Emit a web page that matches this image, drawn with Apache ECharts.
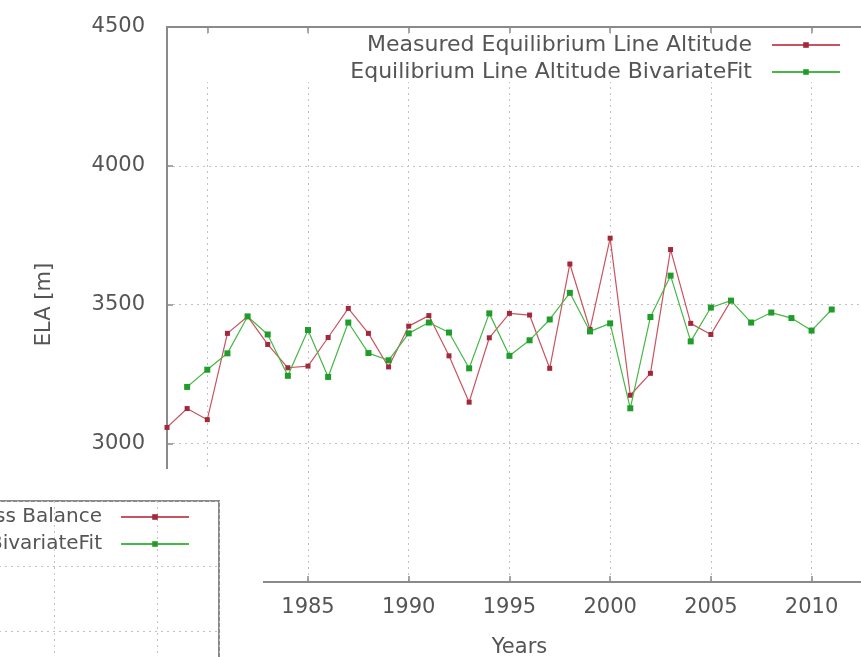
<!DOCTYPE html>
<html><head><meta charset="utf-8">
<script src="https://cdn.jsdelivr.net/npm/echarts@6/dist/echarts.min.js"></script>
<style>html,body{margin:0;padding:0;background:#fff}#c{width:861px;height:657px}</style>
</head><body><div id="c"></div>
<script>
// ---- data ----
const measuredYears = [1978,1979,1980,1981,1982,1983,1984,1985,1986,1987,1988,1989,1990,1991,1992,1993,1994,1995,1996,1997,1998,1999,2000,2001,2002,2003,2004,2005,2006];
const measuredELA = [3057,3125,3085,3396,3457,3356,3272,3278,3381,3486,3396,3275,3422,3460,3315,3148,3380,3468,3462,3270,3646,3410,3739,3173,3252,3698,3432,3392,3514];
const fitYears = [1979,1980,1981,1982,1983,1984,1985,1986,1987,1988,1989,1990,1991,1992,1993,1994,1995,1996,1997,1998,1999,2000,2001,2002,2003,2004,2005,2006,2007,2008,2009,2010,2011];
const fitELA = [3203,3265,3324,3457,3392,3243,3408,3239,3435,3325,3299,3396,3435,3399,3270,3468,3315,3371,3446,3542,3403,3432,3126,3455,3604,3367,3489,3514,3435,3471,3451,3406,3482];
const mainSeriesNames = ['Measured Equilibrium Line Altitude', 'Equilibrium Line Altitude BivariateFit'];
const insetSeriesNames = ['Measured Mass Balance', 'Mass Balance BivariateFit'];
const measuredMassBalance = [];
const fitMassBalance = [];
const xAxisTitle = 'Years';
const yAxisTitle = 'ELA [m]';

// ---- chart ----
const TXT = '#555555', AX = '#8a8a8a', GRIDC = '#c2c2c2';
const RED_L = '#c8545f', RED_M = '#a3283a', GRN_L = '#45b845', GRN_M = '#1f9c2a';
const FONT = 'DejaVu Sans';
const pair = (xs, ys) => xs.map((x, i) => [x, ys[i]]);
const plain = v => String(v);
const dotted = {show: true, lineStyle: {color: GRIDC, width: 1, type: [2, 4]}};
const baseLine = {show: true, lineStyle: {color: AX, width: 2}};
const tickIn = {show: true, inside: true, length: 6, lineStyle: {color: AX, width: 1.5}};

const chart = echarts.init(document.getElementById('c'), null, {renderer: 'canvas'});
chart.setOption({
  animation: false,
  backgroundColor: '#fff',
  textStyle: {fontFamily: FONT},
  grid: [
    {left: 167, top: 27, right: -11, bottom: 75, outerBoundsMode: 'none', containLabel: false},
    {left: -49, top: 501, width: 268, height: 195, outerBoundsMode: 'none', containLabel: false,
     show: true, borderColor: AX, borderWidth: 2, backgroundColor: '#fff', z: 60}
  ],
  xAxis: [
    {gridIndex: 0, type: 'value', min: 1978, max: 2013, splitNumber: 7, position: 'bottom',
     name: xAxisTitle, nameLocation: 'middle', nameGap: 55,
     nameTextStyle: {color: TXT, fontSize: 21, fontFamily: FONT},
     axisLine: baseLine, axisTick: tickIn,
     axisLabel: {margin: 15, color: TXT, fontSize: 21, fontFamily: FONT, formatter: plain, showMinLabel: false, showMaxLabel: false},
     splitLine: dotted},
    {gridIndex: 0, type: 'value', min: 1978, max: 2013, splitNumber: 7, position: 'top',
     axisLine: baseLine, axisTick: tickIn, axisLabel: {show: false}, splitLine: {show: false}},
    {gridIndex: 1, type: 'value', min: 0, max: 2.6, interval: 1, position: 'top', z: 60,
     axisLine: baseLine, axisTick: tickIn, axisLabel: {show: false}, splitLine: dotted}
  ],
  yAxis: [
    {gridIndex: 0, type: 'value', min: 2500, max: 4500, interval: 500,
     name: yAxisTitle, nameLocation: 'middle', nameGap: 112,
     nameTextStyle: {color: TXT, fontSize: 21, fontFamily: FONT},
     axisLine: baseLine, axisTick: tickIn,
     axisLabel: {margin: 22, color: TXT, fontSize: 21, fontFamily: FONT, formatter: plain},
     splitLine: dotted},
    {gridIndex: 1, type: 'value', min: 0, max: 3, interval: 1, position: 'right', z: 60,
     axisLine: baseLine, axisTick: tickIn, axisLabel: {show: false}, splitLine: dotted}
  ],
  legend: [
    {data: mainSeriesNames, orient: 'vertical', align: 'right', right: 20, top: 34, padding: 0,
     itemWidth: 68, itemHeight: 7, itemGap: 5, selectedMode: false,
     textStyle: {color: TXT, fontSize: 22, fontFamily: FONT, lineHeight: 20, padding: [0, 15, 0, 0]}},
    {data: insetSeriesNames, orient: 'vertical', align: 'right', right: 671, top: 507, padding: 0, z: 61,
     itemWidth: 68, itemHeight: 7, itemGap: 7, selectedMode: false,
     textStyle: {color: TXT, fontSize: 20, fontFamily: FONT, lineHeight: 20, padding: [0, 14, 0, 0]}}
  ],
  graphic: [
    {type: 'rect', silent: true, z: 1, shape: {x: 170, y: 34, width: 700, height: 48}, style: {fill: '#fff'}},
    {type: 'rect', silent: true, z: 50, shape: {x: 0, y: 469, width: 263, height: 200}, style: {fill: '#fff'}}
  ],
  series: [
    {name: mainSeriesNames[0], type: 'line', xAxisIndex: 0, yAxisIndex: 0, data: pair(measuredYears, measuredELA),
     symbol: 'rect', symbolSize: 5, lineStyle: {color: RED_L, width: 1.2}, itemStyle: {color: RED_M}, z: 3},
    {name: mainSeriesNames[1], type: 'line', xAxisIndex: 0, yAxisIndex: 0, data: pair(fitYears, fitELA),
     symbol: 'rect', symbolSize: 6, lineStyle: {color: GRN_L, width: 1.2}, itemStyle: {color: GRN_M}, z: 4},
    {name: insetSeriesNames[0], type: 'line', xAxisIndex: 2, yAxisIndex: 1, data: measuredMassBalance,
     symbol: 'rect', symbolSize: 5, lineStyle: {color: RED_L, width: 1.2}, itemStyle: {color: RED_M}, z: 61},
    {name: insetSeriesNames[1], type: 'line', xAxisIndex: 2, yAxisIndex: 1, data: fitMassBalance,
     symbol: 'rect', symbolSize: 6, lineStyle: {color: GRN_L, width: 1.2}, itemStyle: {color: GRN_M}, z: 61}
  ]
});
</script></body></html>
